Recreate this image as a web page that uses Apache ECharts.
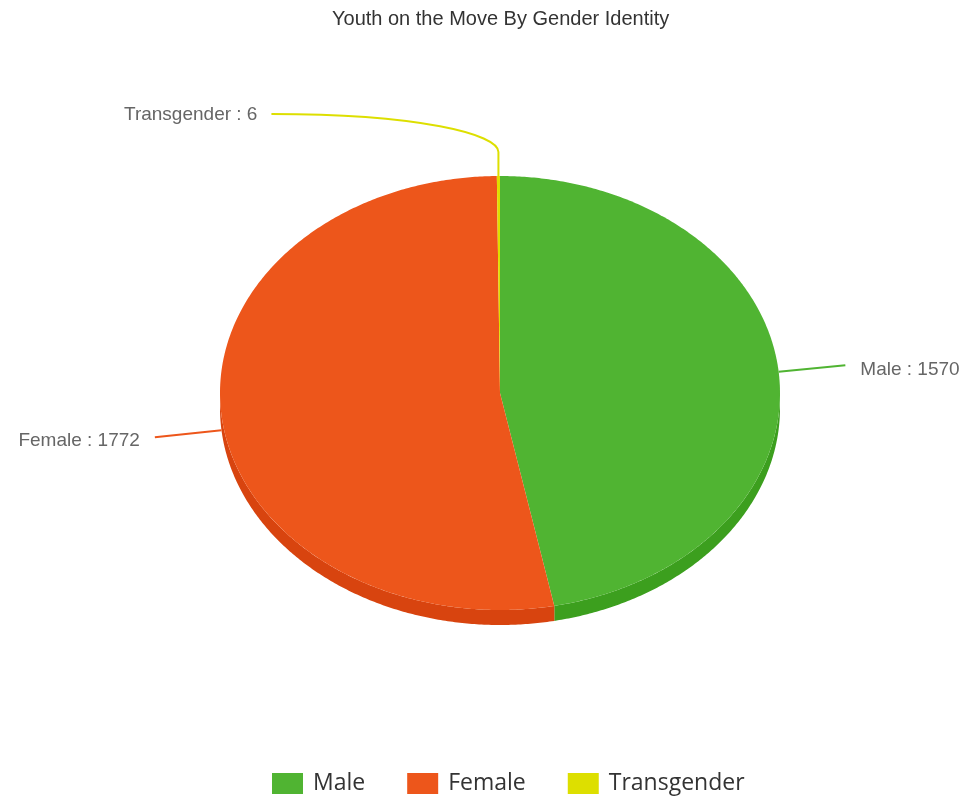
<!DOCTYPE html>
<html>
<head>
<meta charset="utf-8">
<script src="https://cdn.jsdelivr.net/npm/echarts@6/dist/echarts.min.js"></script>
<style>
html,body{margin:0;padding:0;background:#fff;}
#chart{width:967px;height:802px;}
</style>
</head>
<body>
<div id="chart"></div>
<script>
const categories = ['Male', 'Female', 'Transgender'];
const values = [1570, 1772, 6];
const colors = ['#50B432', '#ED561B', '#DDDF00'];
const sideColors = ['#3C9F1E', '#D8440F', '#C6C800'];

const CX = 500, CY = 393, RX = 280, RY = 217, DEPTH = 15;
const total = values.reduce((a, b) => a + b, 0);

function pt(deg, dy) {
  const r = deg * Math.PI / 180;
  return [CX + RX * Math.sin(r), CY - RY * Math.cos(r) + (dy || 0)];
}
function arc(a1, a2, dy) {
  const pts = [];
  const n = Math.max(2, Math.ceil(Math.abs(a2 - a1) / 0.5) + 1);
  for (let k = 0; k < n; k++) pts.push(pt(a1 + (a2 - a1) * k / (n - 1), dy));
  return pts;
}

function makeRender(i) {
  return function (params, api) {
    const v = api.value(0);
    let cum = 0;
    for (let k = 0; k < i; k++) cum += values[k];
    const start = cum / total * 360;
    const end = start + v / total * 360;
    const children = [];
    const a1 = Math.max(start, 90), a2 = Math.min(end, 270);
    if (a1 < a2) {
      const top = arc(a1, a2, 0);
      const bot = arc(a2, a1, DEPTH);
      children.push({type: 'polygon', z2: 1, shape: {points: top.concat(bot)}, style: {fill: sideColors[i]}});
    }
    children.push({type: 'polygon', z2: 2, shape: {points: [[CX, CY]].concat(arc(start, end, 0))}, style: {fill: colors[i]}});
    const mid = (start + end) / 2;
    const s = Math.sin(mid * Math.PI / 180), c = Math.cos(mid * Math.PI / 180);
    const txt = categories[i] + ' : ' + v;
    const font = '19px "Liberation Sans", Arial, sans-serif';
    if (Math.abs(s) < 0.1 && c > 0) {
      const p0 = pt(mid, 0);
      const p1 = [p0[0], p0[1] - 24];
      const p2 = [p0[0] - 227, p0[1] - 62];
      children.push({type: 'polyline', z2: 3, shape: {points: [p0, p1]}, style: {stroke: colors[i], lineWidth: 2, fill: null}});
      children.push({type: 'bezierCurve', z2: 3, shape: {x1: p1[0], y1: p1[1], cpx1: p1[0], cpy1: p1[1] - 18, cpx2: p1[0] - 80, cpy2: p2[1], x2: p2[0], y2: p2[1]}, style: {stroke: colors[i], lineWidth: 2, fill: null}});
      children.push({type: 'text', z2: 3, style: {text: txt, x: p2[0] - 14, y: p2[1] + 1, align: 'right', verticalAlign: 'middle', fill: '#666', font: font}});
    } else {
      const p0 = pt(mid, c < 0 ? DEPTH : 0);
      const p1 = [p0[0] + 67 * s, p0[1] - 67 * c];
      const dir = s >= 0 ? 1 : -1;
      children.push({type: 'polyline', z2: 3, shape: {points: [p0, p1]}, style: {stroke: colors[i], lineWidth: 2, fill: null}});
      children.push({type: 'text', z2: 3, style: {text: txt, x: p1[0] + 15 * dir, y: p1[1] + 4, align: dir > 0 ? 'left' : 'right', verticalAlign: 'middle', fill: '#666', font: font}});
    }
    return {type: 'group', children: children};
  };
}

const chart = echarts.init(document.getElementById('chart'));
chart.setOption({
  animation: false,
  title: {
    text: 'Youth on the Move By Gender Identity',
    left: 327, top: 4,
    textStyle: {fontSize: 20, fontWeight: 'normal', color: '#333', fontFamily: '"Liberation Sans", Arial, sans-serif'}
  },
  legend: {
    data: categories,
    left: 267, top: 767,
    icon: 'rect', itemWidth: 31, itemHeight: 21, itemGap: 42,
    textStyle: {fontSize: 23, color: '#333', fontFamily: '"Open Sans", sans-serif', padding: [0, 0, 0, 5]}
  },
  series: categories.map((name, i) => ({
    type: 'custom',
    name: name,
    coordinateSystem: 'none',
    silent: true,
    itemStyle: {color: colors[i]},
    data: [[values[i]]],
    renderItem: makeRender(i)
  }))
});
</script>
</body>
</html>
